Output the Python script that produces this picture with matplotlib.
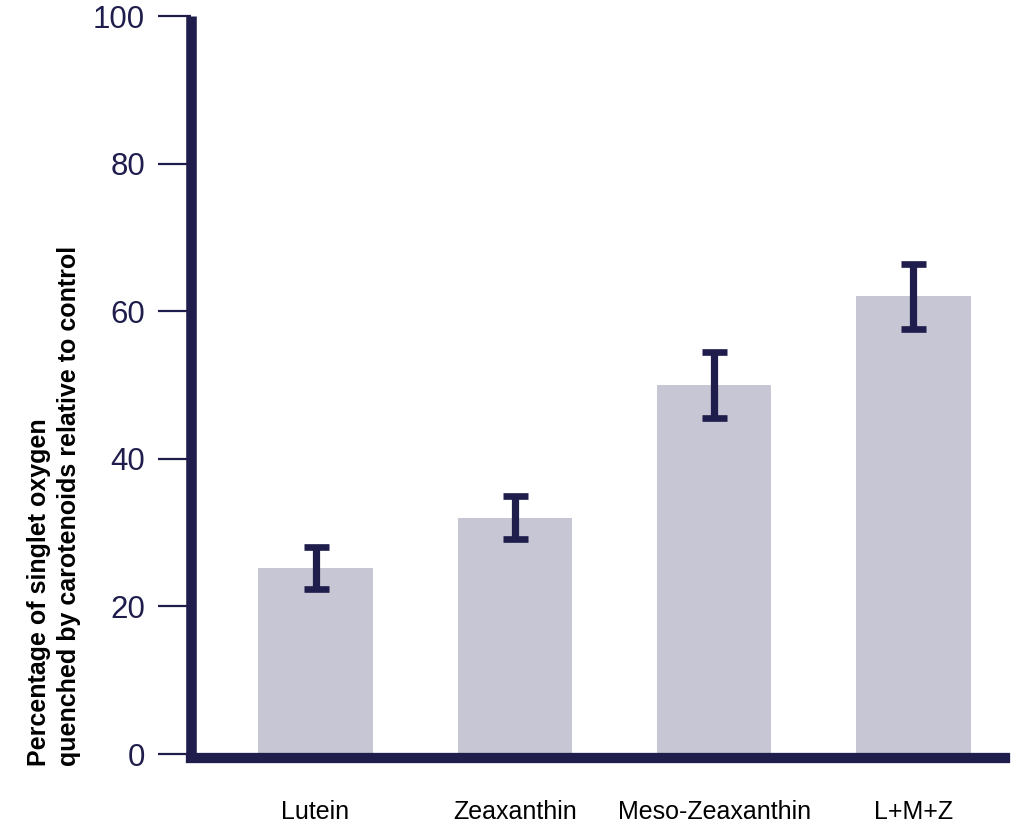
import matplotlib
matplotlib.use("Agg")
import matplotlib.pyplot as plt

categories = ["Lutein", "Zeaxanthin", "Meso-Zeaxanthin", "L+M+Z"]
values = [25.2, 32.0, 50.0, 62.0]
errors = [2.9, 2.9, 4.5, 4.4]
yticks = [0, 20, 40, 60, 80, 100]
ylabel = "Percentage of singlet oxygen\nquenched by carotenoids relative to control"

NAVY = "#1e1d4c"
BAR = "#c6c6d4"

plt.rcParams['font.family'] = ['Liberation Sans', 'DejaVu Sans']

W, H = 1020, 824
fig = plt.figure(figsize=(W / 100, H / 100), dpi=100)
left_px, right_px, top_px, bottom_px = 191, 1005, 16, 754
ax = fig.add_axes([left_px / W, 1 - bottom_px / H, (right_px - left_px) / W, (bottom_px - top_px) / H])

x = list(range(len(categories)))
ax.bar(x, values, width=0.575, color=BAR, zorder=1)
ax.errorbar(x, values, yerr=errors, fmt='none', ecolor=NAVY, elinewidth=5.2,
            capsize=9, capthick=4.8, zorder=3)

ax.set_xlim(-0.625, 3.46)
ax.set_ylim(0, 100)
ax.set_yticks(yticks)
ax.set_yticklabels([str(t) for t in yticks])
ax.set_xticks(x)
ax.set_xticklabels(categories)

for s in ['top', 'right']:
    ax.spines[s].set_visible(False)
ax.spines['left'].set_linewidth(7.6)
ax.spines['left'].set_color(NAVY)
ax.spines['left'].set_capstyle('butt')
ax.spines['bottom'].set_linewidth(7.4)
ax.spines['bottom'].set_color(NAVY)
ax.spines['bottom'].set_position(('outward', 3.2))
ax.spines['bottom'].set_capstyle('projecting')
ax.spines['bottom'].set_zorder(4)

ax.tick_params(axis='y', length=24, width=1.6, color=NAVY, labelcolor=NAVY,
               labelsize=22.5, pad=9)
ax.tick_params(axis='x', length=0, labelsize=18, labelcolor='black', pad=30)

fig.text(54 / W, 1 - 766 / H, ylabel, rotation=90, ha='center', va='bottom',
         multialignment='left', fontsize=18, fontweight='bold', color='black',
         linespacing=1.35)

fig.savefig("out.png", dpi=100)
